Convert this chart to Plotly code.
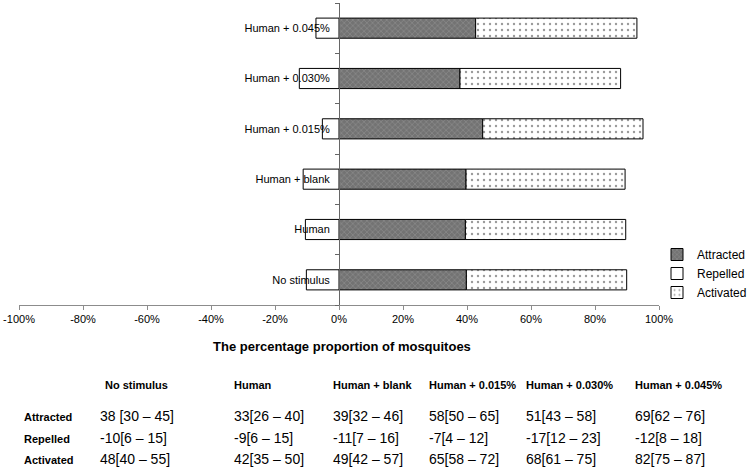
import plotly.graph_objects as go

categories = ["No stimulus", "Human", "Human + blank", "Human + 0.015%", "Human + 0.030%", "Human + 0.045%"]
attracted = [39.8, 39.5, 39.7, 44.9, 37.8, 42.7]
repelled = [-10.2, -10.5, -11.2, -5.2, -12.4, -7.2]
activated = [50.1, 50.1, 49.7, 50.1, 50.2, 50.4]

x_tick_values = [-100, -80, -60, -40, -20, 0, 20, 40, 60, 80, 100]
x_tick_labels = ["-100%", "-80%", "-60%", "-40%", "-20%", "0%", "20%", "40%", "60%", "80%", "100%"]

table_headers = ["No stimulus", "Human", "Human + blank", "Human + 0.015%", "Human + 0.030%", "Human + 0.045%"]
table_row_names = ["Attracted", "Repelled", "Activated"]
table_attracted = ["38 [30 \u2013 45]", "33[26 \u2013 40]", "39[32 \u2013 46]", "58[50 \u2013 65]", "51[43 \u2013 58]", "69[62 \u2013 76]"]
table_repelled = ["-10[6 \u2013 15]", "-9[6 \u2013 15]", "-11[7 \u2013 16]", "-7[4 \u2013 12]", "-17[12 \u2013 23]", "-12[8 \u2013 18]"]
table_activated = ["48[40 \u2013 55]", "42[35 \u2013 50]", "49[42 \u2013 57]", "65[58 \u2013 72]", "68[61 \u2013 75]", "82[75 \u2013 87]"]

W, H = 753, 470
L, R, T, B = 19, 94, 3, 165
FONT = "Liberation Sans, Arial, sans-serif"
NARROW = "Liberation Sans Narrow, Arial Narrow, Liberation Sans, sans-serif"

def px(x):
    return (x - L) / (W - L - R)

def py(y):
    return 1 - (y - T) / (H - T - B)

fig = go.Figure()
fig.add_trace(go.Bar(
    y=categories, x=attracted, orientation="h", name="Attracted",
    marker=dict(color="#737373", line=dict(color="#000000", width=1),
                pattern=dict(shape="x", fgcolor="#a8a8a8", size=4, solidity=0.3)),
))
fig.add_trace(go.Bar(
    y=categories, x=repelled, orientation="h", name="Repelled",
    marker=dict(color="#ffffff", line=dict(color="#000000", width=1)),
))
fig.add_trace(go.Bar(
    y=categories, x=activated, orientation="h", name="Activated",
    marker=dict(color="#ffffff", line=dict(color="#000000", width=1),
                pattern=dict(shape=".", fgcolor="#333333", size=6, solidity=0.12)),
))

annotations = []
annotations.append(dict(x=px(342), y=py(346), xref="paper", yref="paper",
                        text="<b>The percentage proportion of mosquitoes</b>", showarrow=False,
                        font=dict(family=FONT, size=13, color="#000"), xanchor="center", yanchor="middle"))

col_x = [103, 232, 331, 427, 524, 633]
val_x = [98, 232, 331, 427, 524, 633]
header_y = 385
row_y = [416, 438, 459]
for cx, h in zip(col_x, table_headers):
    annotations.append(dict(x=px(cx), y=py(header_y), xref="paper", yref="paper", text="<b>" + h + "</b>",
                            showarrow=False, xanchor="left", yanchor="middle",
                            font=dict(family=NARROW, size=11, color="#000")))
for ry, name, vals in zip(row_y, table_row_names, [table_attracted, table_repelled, table_activated]):
    annotations.append(dict(x=px(22), y=py(ry + 1), xref="paper", yref="paper", text="<b>" + name + "</b>",
                            showarrow=False, xanchor="left", yanchor="middle",
                            font=dict(family=NARROW, size=11, color="#000")))
    for vx, v in zip(val_x, vals):
        annotations.append(dict(x=px(vx), y=py(ry), xref="paper", yref="paper", text=v,
                                showarrow=False, xanchor="left", yanchor="middle",
                                font=dict(family=NARROW, size=14, color="#000")))

fig.update_layout(
    width=W, height=H,
    margin=dict(l=L, r=R, t=T, b=B, autoexpand=False),
    paper_bgcolor="white", plot_bgcolor="white",
    barmode="relative", bargap=0.6,
    font=dict(family=FONT, size=11, color="#000"),
    showlegend=True,
    legend=dict(x=px(657), y=py(240), xanchor="left", yanchor="top", traceorder="normal",
                font=dict(family=FONT, size=12, color="#000"), bgcolor="rgba(0,0,0,0)",
                itemwidth=30, tracegroupgap=0),
    xaxis=dict(range=[-100, 100], tickvals=x_tick_values, ticktext=x_tick_labels,
               showgrid=False, zeroline=False, showline=True, linecolor="#8c8c8c", linewidth=1,
               ticks="outside", ticklen=4, tickcolor="#8c8c8c",
               tickfont=dict(family=FONT, size=11, color="#000"), automargin=False),
    yaxis=dict(type="category", anchor="free", position=0.5, showgrid=False, zeroline=False,
               showline=True, linecolor="#666666", linewidth=1, ticks="outside", ticklen=4,
               tickcolor="#666666", tickson="boundaries",
               tickfont=dict(family=FONT, size=11, color="#000"),
               ticklabelstandoff=7, automargin=False),
    annotations=annotations,
)

fig.write_html("out.html", config={"displayModeBar": False},
               post_script="document.body.style.margin='0';document.body.style.padding='0';")
